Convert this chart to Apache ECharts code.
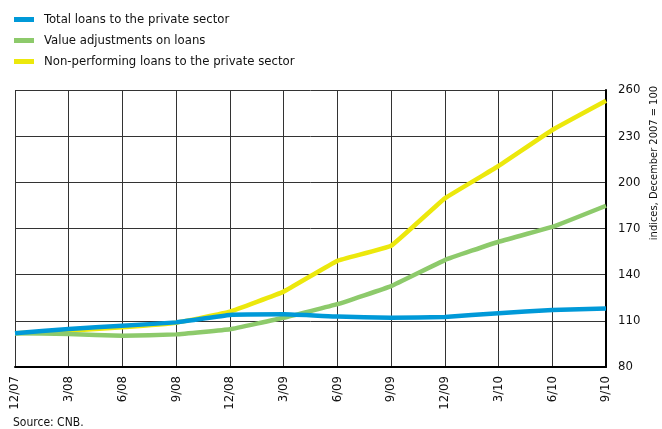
<!DOCTYPE html>
<html>
<head>
<meta charset="utf-8">
<script src="https://cdn.jsdelivr.net/npm/echarts@6/dist/echarts.min.js"></script>
<style>
  html, body { margin: 0; padding: 0; background: #fff; }
  #chart { width: 662px; height: 429px; }
</style>
</head>
<body>
<div id="chart"></div>
<script>
// quarters, Dec 2007 = 100
const categories = ['12/07', '3/08', '6/08', '9/08', '12/08', '3/09', '6/09', '9/09', '12/09', '3/10', '6/10', '9/10'];
const totalLoans = [102, 104.7, 106.8, 109, 113.8, 114.2, 112.8, 112, 112.5, 115, 117, 118];
const valueAdjust = [102, 101.4, 100.3, 101.2, 104.5, 112, 120.8, 132.6, 149.5, 161.4, 171, 184.8];
const nonPerforming = [102, 103.5, 105.8, 108.8, 116, 129, 149, 158.8, 189.6, 210.6, 234, 253];
const yTicks = { min: 80, max: 260, step: 30 };

const FONT = '"Liberation Sans Narrow", "DejaVu Sans Condensed", "Roboto", sans-serif';
const colors = { total: '#0099d8', adj: '#8dca6b', npl: '#ece80c' };

const chart = echarts.init(document.getElementById('chart'));

const lineSeries = (name, data, color, z) => ({
    name: name,
    type: 'line',
    data: data,
    showSymbol: false,
    smooth: 0.08,
    lineStyle: { color: color, width: 4.5, join: 'round' },
    itemStyle: { color: color },
    z: z
});

chart.setOption({
    animation: false,
    backgroundColor: '#fff',
    textStyle: { fontFamily: FONT },
    legend: {
        orient: 'vertical',
        left: 9,
        top: 8,
        itemWidth: 20,
        itemHeight: 5,
        itemGap: 8,
        icon: 'rect',
        textStyle: { fontFamily: FONT, fontSize: 13, color: '#111', padding: [0, 0, 0, 5] },
        data: ['Total loans to the private sector', 'Value adjustments on loans', 'Non-performing loans to the private sector']
    },
    grid: { left: 15, right: 56, top: 90, bottom: 62 },
    xAxis: {
        type: 'category',
        data: categories,
        boundaryGap: false,
        axisLine: { lineStyle: { color: '#000', width: 2 } },
        axisTick: { show: false },
        axisLabel: { rotate: 90, margin: 9, fontSize: 13, color: '#111', fontFamily: FONT },
        splitLine: { show: true, lineStyle: { color: '#333', width: 1 } }
    },
    yAxis: {
        type: 'value',
        position: 'right',
        min: yTicks.min,
        max: yTicks.max,
        interval: yTicks.step,
        axisLine: { show: true, lineStyle: { color: '#000', width: 2 } },
        axisTick: { show: false },
        axisLabel: { margin: 12, fontSize: 13, color: '#111', fontFamily: FONT },
        splitLine: { show: true, lineStyle: { color: '#333', width: 1 } }
    },
    graphic: [
        {
            type: 'text',
            x: 654,
            y: 86,
            rotation: Math.PI / 2,
            style: {
                text: 'indices, December 2007 = 100',
                fontFamily: FONT,
                fontSize: 11,
                fill: '#111',
                align: 'right',
                verticalAlign: 'middle'
            }
        },
        {
            type: 'text',
            left: 13,
            top: 417,
            style: { text: 'Source: CNB.', fontFamily: FONT, fontSize: 12, fill: '#111' }
        }
    ],
    series: [
        lineSeries('Total loans to the private sector', totalLoans, colors.total, 5),
        lineSeries('Value adjustments on loans', valueAdjust, colors.adj, 4),
        lineSeries('Non-performing loans to the private sector', nonPerforming, colors.npl, 3)
    ]
});
</script>
</body>
</html>
